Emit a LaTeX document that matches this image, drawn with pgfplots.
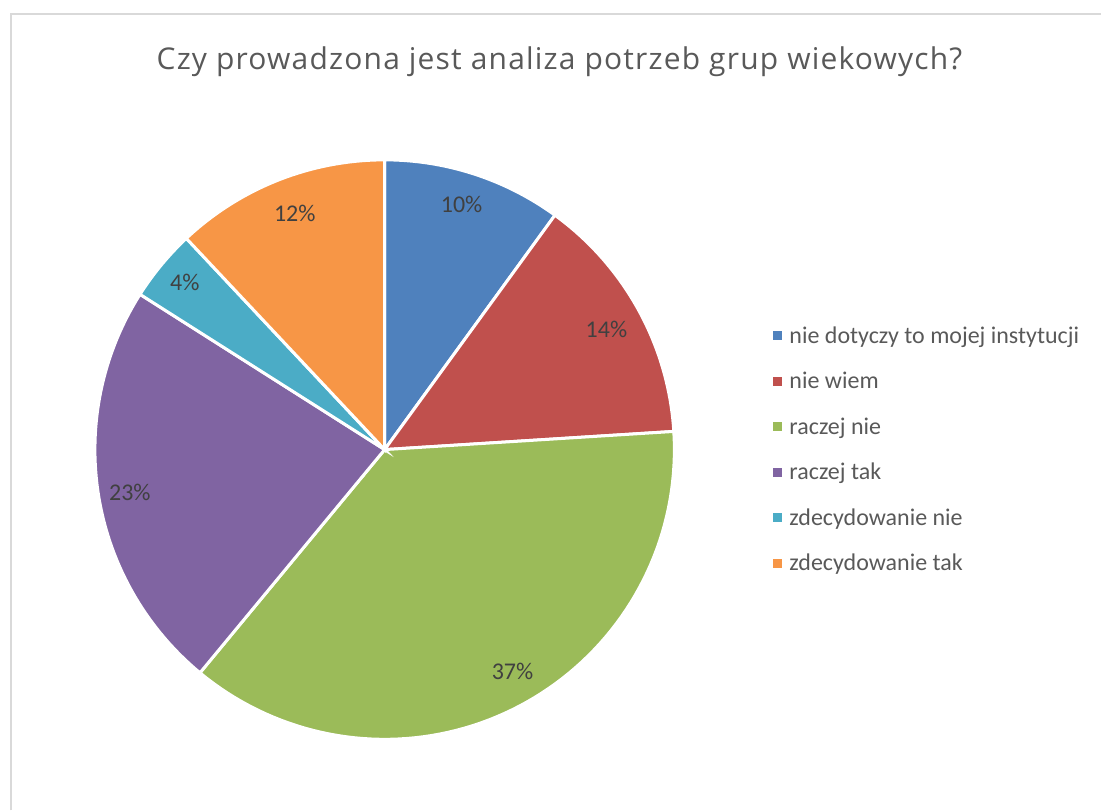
\documentclass[border=0pt]{standalone}
\usepackage{fontspec}
\setmainfont{Carlito}
\newfontfamily\titlefont[LetterSpace=4]{Open Sans}
\usepackage{pgfplots}
\pgfplotsset{compat=1.18}
\definecolor{cBlue}{HTML}{4F81BD}
\definecolor{cRed}{HTML}{C0504D}
\definecolor{cGreen}{HTML}{9BBB59}
\definecolor{cPurple}{HTML}{8064A2}
\definecolor{cAqua}{HTML}{4BACC6}
\definecolor{cOrange}{HTML}{F79646}
\definecolor{titlegray}{HTML}{595959}
\definecolor{labgray}{HTML}{404040}
\definecolor{framegray}{HTML}{D9D9D9}
% shares (percent), clockwise from 12 o'clock
\def\vA{10}\def\vB{14}\def\vC{37}\def\vD{23}\def\vE{4}\def\vF{12}
\pgfmathsetmacro{\aA}{90}
\pgfmathsetmacro{\aB}{\aA-3.6*\vA}
\pgfmathsetmacro{\aC}{\aB-3.6*\vB}
\pgfmathsetmacro{\aD}{\aC-3.6*\vC}
\pgfmathsetmacro{\aE}{\aD-3.6*\vD}
\pgfmathsetmacro{\aF}{\aE-3.6*\vE}
\pgfmathsetmacro{\aG}{\aF-3.6*\vF}
\def\cx{385}\def\cy{361}\def\rr{290}
\begin{document}
\begin{tikzpicture}
\begin{axis}[
  scale only axis, width=1102pt, height=811pt,
  xmin=0, xmax=1102, ymin=0, ymax=811,
  hide axis, clip=false,
  legend cell align=left,
  legend style={at={(axis cs:773,361)}, anchor=west, draw=none, fill=none,
    font=\fontsize{24}{28}\selectfont\color{titlegray}, row sep=23.4pt,
    column sep=6pt, inner sep=0pt, nodes={inner sep=2pt}},
  legend image code/.code={\fill[#1,draw=none] (0pt,-4.5pt) rectangle (9pt,4.5pt);},
]
\path (axis cs:0,0) rectangle (axis cs:1102,811);
\addplot[draw=framegray, line width=2pt, forget plot] coordinates {(11,0) (11,797) (1102,797)};
\addplot[fill=cBlue, draw=white, line width=3pt, domain=\aB:\aA, samples=40, variable=\t]
  ({\cx+\rr*cos(t)},{\cy+\rr*sin(t)}) -- (axis cs:\cx,\cy) -- cycle;
\addlegendentry{nie dotyczy to mojej instytucji}
\addplot[fill=cRed, draw=white, line width=3pt, domain=\aC:\aB, samples=40, variable=\t]
  ({\cx+\rr*cos(t)},{\cy+\rr*sin(t)}) -- (axis cs:\cx,\cy) -- cycle;
\addlegendentry{nie wiem}
\addplot[fill=cGreen, draw=white, line width=3pt, domain=\aD:\aC, samples=80, variable=\t]
  ({\cx+\rr*cos(t)},{\cy+\rr*sin(t)}) -- (axis cs:\cx,\cy) -- cycle;
\addlegendentry{raczej nie}
\addplot[fill=cPurple, draw=white, line width=3pt, domain=\aE:\aD, samples=60, variable=\t]
  ({\cx+\rr*cos(t)},{\cy+\rr*sin(t)}) -- (axis cs:\cx,\cy) -- cycle;
\addlegendentry{raczej tak}
\addplot[fill=cAqua, draw=white, line width=3pt, domain=\aF:\aE, samples=20, variable=\t]
  ({\cx+\rr*cos(t)},{\cy+\rr*sin(t)}) -- (axis cs:\cx,\cy) -- cycle;
\addlegendentry{zdecydowanie nie}
\addplot[fill=cOrange, draw=white, line width=3pt, domain=\aG:\aF, samples=40, variable=\t]
  ({\cx+\rr*cos(t)},{\cy+\rr*sin(t)}) -- (axis cs:\cx,\cy) -- cycle;
\addlegendentry{zdecydowanie tak}
\begin{scope}[every node/.style={font=\fontsize{24}{28}\selectfont, text=labgray}]
\node at (axis cs:462,606) {10\%};
\node at (axis cs:607,481) {14\%};
\node at (axis cs:513,139) {37\%};
\node at (axis cs:130,318) {23\%};
\node at (axis cs:185,528) {4\%};
\node at (axis cs:295,597) {12\%};
\end{scope}
\node[font=\titlefont\fontsize{30}{36}\selectfont, text=titlegray] at (axis cs:560,749) {Czy prowadzona jest analiza potrzeb grup wiekowych?};
\end{axis}
\end{tikzpicture}
\end{document}
